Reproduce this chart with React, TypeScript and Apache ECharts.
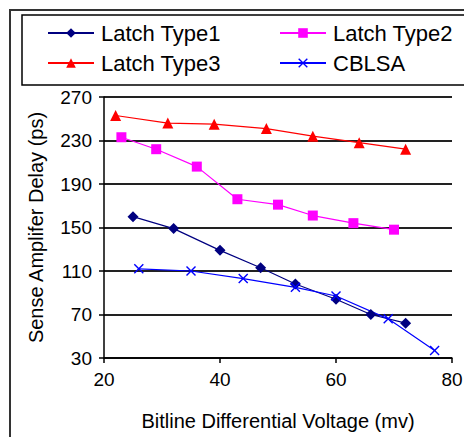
import React, { useEffect, useRef } from "react";
import * as echarts from "echarts";

const seriesNames = ["Latch Type1", "Latch Type2", "Latch Type3", "CBLSA"];
const type1X = [25, 32, 40, 47, 53, 60, 66, 72];
const type1Y = [160, 149, 129, 113, 98, 84, 70, 62];
const type2X = [23, 29, 36, 43, 50, 56, 63, 70];
const type2Y = [233, 222, 206, 176, 171, 161, 154, 148];
const type3X = [22, 31, 39, 48, 56, 64, 72];
const type3Y = [253, 246, 245, 241, 234, 228, 222];
const cblsaX = [26, 35, 44, 53, 60, 69, 77];
const cblsaY = [112, 110, 103, 95, 87, 66, 37];
const xTicks = [20, 40, 60, 80];
const yTicks = [30, 70, 110, 150, 190, 230, 270];

const FONT = "Liberation Sans, Arial, sans-serif";
const xPath = "path://M0,1L1,0L5,4L9,0L10,1L6,5L10,9L9,10L5,6L1,10L0,9L4,5Z";

function pairs(xs: number[], ys: number[]) {
  return xs.map((x, i) => [x, ys[i]]);
}

export default function App() {
  const ref = useRef<HTMLDivElement>(null);
  useEffect(() => {
    if (!ref.current) return;
    const chart = echarts.init(ref.current, null, { renderer: "svg" });
    const colors = ["#000080", "#FF00FF", "#FF0000", "#0000FF"];
    const symbols = ["diamond", "rect", "triangle", xPath];
    const sizes = [11, 10, 11, 10];
    const data = [
      pairs(type1X, type1Y),
      pairs(type2X, type2Y),
      pairs(type3X, type3Y),
      pairs(cblsaX, cblsaY),
    ];
    const legendPos = [
      { left: 47, top: 22 },
      { left: 279, top: 22 },
      { left: 47, top: 52 },
      { left: 279, top: 52 },
    ];
    chart.setOption({
      animation: false,
      backgroundColor: "#fff",
      textStyle: { fontFamily: FONT },
      graphic: [
        {
          type: "rect",
          shape: { x: 10, y: 10, width: 480, height: 460 },
          style: { fill: "none", stroke: "#333", lineWidth: 2 },
          silent: true,
        },
        {
          type: "rect",
          shape: { x: 22, y: 15, width: 470, height: 70 },
          style: { fill: "none", stroke: "#000", lineWidth: 1.5 },
          silent: true,
        },
      ],
      legend: seriesNames.map((n, i) => ({
        data: [n],
        left: legendPos[i].left,
        top: legendPos[i].top,
        padding: 0,
        itemWidth: 46,
        itemHeight: 12,
        textStyle: { fontSize: 22, color: "#000", fontFamily: FONT, padding: [0, 0, 0, 2] },
      })),
      grid: { left: 104, right: 20, top: 97, bottom: 87 },
      xAxis: {
        type: "value",
        min: xTicks[0],
        max: xTicks[xTicks.length - 1],
        interval: 20,
        name: "Bitline Differential Voltage (mv)",
        nameLocation: "middle",
        nameGap: 53,
        nameTextStyle: { fontSize: 20, color: "#000", fontFamily: FONT },
        axisLine: { lineStyle: { color: "#000", width: 1.5 } },
        axisTick: { show: true, length: 5, lineStyle: { color: "#000", width: 1.5 } },
        axisLabel: { fontSize: 19, color: "#000", margin: 12, fontFamily: FONT },
        splitLine: { show: false },
      },
      yAxis: {
        type: "value",
        min: yTicks[0],
        max: yTicks[yTicks.length - 1],
        interval: 40,
        name: "Sense Amplifer Delay (ps)",
        nameLocation: "middle",
        nameGap: 58,
        nameTextStyle: { fontSize: 20, color: "#000", fontFamily: FONT },
        axisLine: { show: true, lineStyle: { color: "#000", width: 1.5 } },
        axisTick: { show: true, length: 5, lineStyle: { color: "#000", width: 1.5 } },
        axisLabel: { fontSize: 19, color: "#000", margin: 12, fontFamily: FONT },
        splitLine: { show: true, lineStyle: { color: "#222", width: 2 } },
      },
      series: seriesNames.map((n, i) => ({
        name: n,
        type: "line",
        data: data[i],
        symbol: symbols[i],
        symbolSize: sizes[i],
        showAllSymbol: true,
        lineStyle: { color: colors[i], width: 1.2 },
        itemStyle: { color: colors[i] },
        z: 3,
      })),
    });
    return () => chart.dispose();
  }, []);
  return <div ref={ref} style={{ width: 472, height: 445, margin: -8 }} />;
}
